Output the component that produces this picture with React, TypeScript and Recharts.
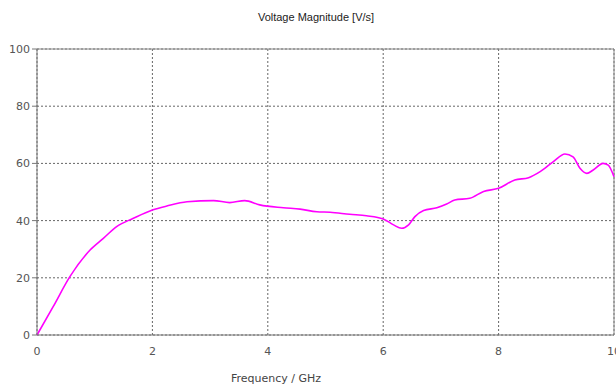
import { LineChart, Line, XAxis, YAxis, CartesianGrid, ReferenceLine } from 'recharts'

const freq = [
  0, 0.28, 0.57, 0.92, 1.15, 1.38, 1.67, 2.0, 2.25, 2.6, 3.06, 3.34, 3.6, 3.86, 4.27, 4.56,
  4.85, 5.08, 5.42, 5.71, 6.0, 6.18, 6.32, 6.44, 6.55, 6.7, 6.93, 7.1, 7.24, 7.5, 7.74,
  8.0, 8.28, 8.52, 8.72, 8.95, 9.15, 9.29, 9.41, 9.53, 9.64, 9.81, 9.9, 10.0,
]
const voltage = [
  0, 9.9, 20.4, 29.7, 33.8, 37.9, 40.8, 43.7, 45.1, 46.6, 47.0, 46.3, 47.0, 45.5, 44.5, 44.0,
  43.1, 42.9, 42.2, 41.7, 40.6, 38.5, 37.3, 38.5, 41.4, 43.5, 44.5, 45.8, 47.2, 47.8, 50.2,
  51.3, 54.2, 55.0, 57.1, 60.6, 63.3, 62.3, 58.3, 56.5, 57.7, 60.0, 59.4, 55.3,
]
const xTicks = [0, 2, 4, 6, 8, 10]
const yTicks = [0, 20, 40, 60, 80, 100]

const data = freq.map((f, i) => ({ f, v: voltage[i] }))

const tickStyle = { fill: '#555', fontSize: 11, fontFamily: 'DejaVu Sans' }

export default function App() {
  return (
    <div style={{ position: 'absolute', left: 0, top: 0, width: 616, height: 384, background: '#fff' }}>
      <div
        style={{
          position: 'absolute',
          top: 11,
          left: 0,
          width: 632,
          textAlign: 'center',
          fontFamily: 'Liberation Sans',
          fontSize: 11,
          color: '#222',
        }}
      >
        Voltage Magnitude [V/s]
      </div>
      <LineChart width={616} height={384} data={data} margin={{ top: 49, right: 2, left: 0, bottom: 19 }}>
        <CartesianGrid stroke="#666" strokeDasharray="2 2" />
        <XAxis
          dataKey="f"
          type="number"
          domain={[0, 10]}
          ticks={xTicks}
          tickLine={false}
          axisLine={{ stroke: '#777' }}
          tick={tickStyle}
          tickMargin={6}
          height={30}
          interval={0}
        />
        <YAxis
          type="number"
          domain={[0, 100]}
          ticks={yTicks}
          width={37}
          tickSize={5}
          tickLine={{ stroke: '#777' }}
          axisLine={{ stroke: '#777' }}
          tick={tickStyle}
          tickMargin={2}
          interval={0}
        />
        <ReferenceLine y={100} stroke="#888" />
        <ReferenceLine x={10} stroke="#888" />
        <Line
          type="monotone"
          dataKey="v"
          stroke="#ff00ff"
          strokeWidth={1.6}
          dot={false}
          isAnimationActive={false}
        />
      </LineChart>
      <div
        style={{
          position: 'absolute',
          top: 372,
          left: 0,
          width: 552,
          textAlign: 'center',
          fontFamily: 'DejaVu Sans',
          fontSize: 11,
          color: '#444',
        }}
      >
        Frequency / GHz
      </div>
    </div>
  )
}
